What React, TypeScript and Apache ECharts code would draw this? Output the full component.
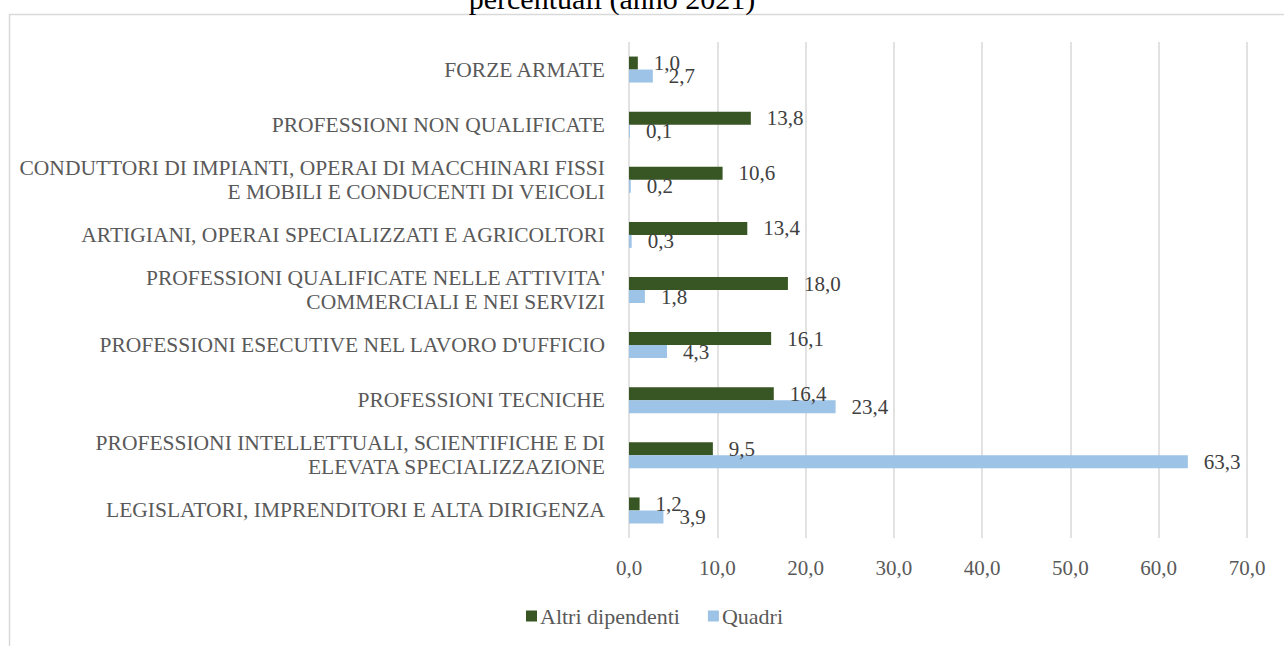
import React, { useEffect, useRef } from "react";
import * as echarts from "echarts";

const categories = [
  "LEGISLATORI, IMPRENDITORI E ALTA DIRIGENZA",
  "PROFESSIONI INTELLETTUALI, SCIENTIFICHE E DI\nELEVATA SPECIALIZZAZIONE",
  "PROFESSIONI TECNICHE",
  "PROFESSIONI ESECUTIVE NEL LAVORO D'UFFICIO",
  "PROFESSIONI QUALIFICATE NELLE ATTIVITA'\nCOMMERCIALI E NEI SERVIZI",
  "ARTIGIANI, OPERAI SPECIALIZZATI E AGRICOLTORI",
  "CONDUTTORI DI IMPIANTI, OPERAI DI MACCHINARI FISSI\nE MOBILI E CONDUCENTI DI VEICOLI",
  "PROFESSIONI NON QUALIFICATE",
  "FORZE ARMATE",
];
const altriDipendenti = [1.2, 9.5, 16.4, 16.1, 18.0, 13.4, 10.6, 13.8, 1.0];
const quadri = [3.9, 63.3, 23.4, 4.3, 1.8, 0.3, 0.2, 0.1, 2.7];
const titleText = "percentuali (anno 2021)";

const FONT = "'Liberation Serif', 'DejaVu Serif', serif";
const fmt = (v: number) => v.toFixed(1).replace(".", ",");

export default function App() {
  const ref = useRef<HTMLDivElement>(null);
  useEffect(() => {
    if (!ref.current) return;
    const chart = echarts.init(ref.current, undefined, { renderer: "svg" });
    const labelStyle = {
      show: true,
      position: "right" as const,
      distance: 16,
      fontFamily: FONT,
      fontSize: 21,
      color: "#404040",
      formatter: (p: any) => fmt(p.value),
    };
    chart.setOption({
      animation: false,
      backgroundColor: "#ffffff",
      textStyle: { fontFamily: FONT },
      graphic: [
        {
          type: "rect",
          shape: { x: 9.5, y: 14.5, width: 1400, height: 800 },
          style: { fill: "none", stroke: "#d9d9d9", lineWidth: 1.5 },
          silent: true,
        },
        {
          type: "text",
          x: 612,
          y: 13,
          style: {
            text: titleText,
            fontFamily: FONT,
            fontSize: 30,
            fill: "#000000",
            textAlign: "center",
            textVerticalAlign: "bottom",
          },
        },
      ],
      legend: {
        bottom: 14,
        left: 521,
        itemWidth: 11,
        itemHeight: 11,
        itemGap: 28,
        icon: "rect",
        textStyle: { fontFamily: FONT, fontSize: 22, color: "#595959", padding: [0, 0, 0, -2] },
        data: ["Altri dipendenti", "Quadri"],
      },
      grid: { left: 629, right: 37, top: 42, bottom: 108, containLabel: false },
      xAxis: {
        type: "value",
        min: 0,
        max: 70,
        interval: 10,
        axisLine: { show: false },
        axisTick: { show: false },
        splitLine: { lineStyle: { color: "#d9d9d9", width: 1.5 } },
        axisLabel: {
          margin: 19,
          fontFamily: FONT,
          fontSize: 21,
          color: "#595959",
          formatter: (v: number) => fmt(v),
        },
      },
      yAxis: {
        type: "category",
        data: categories,
        axisLine: { show: false },
        axisTick: { show: false },
        axisLabel: {
          margin: 24,
          fontFamily: FONT,
          fontSize: 21.5,
          lineHeight: 24,
          color: "#595959",
        },
      },
      series: [
        {
          name: "Altri dipendenti",
          type: "bar",
          data: altriDipendenti,
          barWidth: 13,
          barGap: "0%",
          itemStyle: { color: "#375623" },
          label: labelStyle,
        },
        {
          name: "Quadri",
          type: "bar",
          data: quadri,
          barWidth: 13,
          barGap: "0%",
          itemStyle: { color: "#9dc3e6" },
          label: labelStyle,
        },
      ],
    });
    return () => chart.dispose();
  }, []);
  return (
    <div
      ref={ref}
      style={{ position: "absolute", left: 0, top: 0, width: 1284, height: 646 }}
    />
  );
}
